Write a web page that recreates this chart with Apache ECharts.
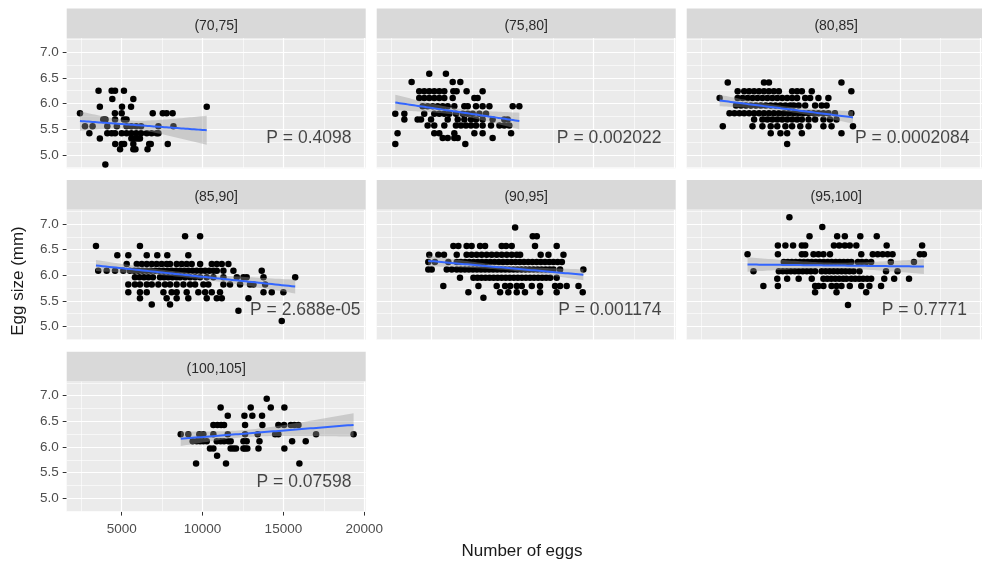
<!DOCTYPE html>
<html>
<head>
<meta charset="utf-8">
<script src="https://cdn.jsdelivr.net/npm/echarts@6/dist/echarts.min.js"></script>
<style>
  html, body { margin: 0; padding: 0; background: #ffffff; }
  #chart { width: 982px; height: 570px; }
</style>
</head>
<body>
<div id="chart"></div>
<script>
// Facet labels (female length class) and the p-value of each panel's linear fit
const panelTitles = ['(70,75]', '(75,80]', '(80,85]', '(85,90]', '(90,95]', '(95,100]', '(100,105]'];
const pValues = ['P = 0.4098', 'P = 0.002022', 'P = 0.0002084', 'P = 2.688e-05', 'P = 0.001174', 'P = 0.7771', 'P = 0.07598'];

// Fitted egg size (mm) at the smallest and largest egg count of each panel
const fitStart = [5.66, 6.02, 6.06, 6.19, 6.28, 6.21, 6.16];
const fitEnd   = [5.48, 5.66, 5.73, 5.78, 6.01, 6.17, 6.43];

// Axis breaks
const xTicks = [5000, 10000, 15000, 20000];
const xMinor = [2500, 7500, 12500, 17500];
const yTicks = [5.0, 5.5, 6.0, 6.5, 7.0];
const yMinor = [4.75, 5.25, 5.75, 6.25, 6.75, 7.25];
const xLimits = [1600, 20090];
const yLimits = [4.74, 7.28];

// Observations per panel, grouped by egg size (mm): [egg size, [number of eggs, ...]]
const eggs70_75 = [
  [6.25, [3570, 4380, 4590, 5140]],
  [6.09, [4420, 5720]],
  [5.94, [3650, 5020, 5580, 10260]],
  [5.81, [2420, 4580, 5000, 6920, 7540, 7780, 8150]],
  [5.69, [3860, 4000, 4590, 5140, 5300]],
  [5.56, [2730, 3200, 4110, 4700, 5300, 5600, 5900, 6200, 7270, 8200]],
  [5.42, [3000, 4110, 4380, 4590, 5000, 5300, 5600, 5900, 6200, 6550, 6850, 7160, 7270]],
  [5.32, [3650, 5600, 5850, 6000, 6130]],
  [5.21, [4600, 5000, 5150, 5720, 6700, 6800, 7850]],
  [5.11, [4900, 5720, 5850, 6600]],
  [4.81, [3990]]
];
const eggs75_80 = [
  [6.58, [4850, 5880]],
  [6.42, [3760, 6300, 6770]],
  [6.24, [4230, 4540, 4850, 5160, 5470, 5780, 6340, 6540, 7160, 8150]],
  [6.11, [4230, 4540, 4850, 5160, 5470, 5780, 6300, 7640, 7840]],
  [5.95, [4440, 4750, 5060, 5370, 5680, 5990, 6400, 7020, 7230, 7740, 8150, 8570, 10010, 10420]],
  [5.80, [2750, 3310, 4540, 5160, 5470, 5780, 6090, 6500, 6920, 7230, 7540, 7950, 8360]],
  [5.69, [3310, 4130, 4340, 4960, 5990, 6610, 7020, 7430, 7740, 8150, 8770, 9490, 9700]],
  [5.57, [4750, 5160, 5780, 6500, 6810, 7120, 7430, 7740, 8150, 8670, 9190, 9490, 9800]],
  [5.42, [2890, 5160, 5470, 6400, 7640, 8150, 9910]],
  [5.33, [5680, 5990, 6400, 6610, 8770]],
  [5.21, [2750, 7080]]
];
const eggs80_85 = [
  [6.41, [4170, 6440, 6750, 11290]],
  [6.24, [4790, 5200, 5510, 5820, 6130, 6440, 6750, 7060, 7370, 8200, 8510, 8810, 9430, 11910]],
  [6.11, [3660, 4790, 5100, 5410, 5720, 6030, 6340, 6650, 6960, 7270, 7580, 7890, 8200, 8510, 9020, 9330, 9850, 10470]],
  [5.96, [4690, 5000, 5310, 5620, 5930, 6240, 6550, 6860, 7160, 7470, 7780, 8090, 8300, 8610, 9020, 9640, 10050, 10360]],
  [5.81, [4280, 4590, 4900, 5200, 5510, 5820, 6130, 6440, 6750, 7060, 7370, 7680, 7990, 8300, 8610, 8920, 9230, 9540, 9850, 10160, 10470, 10880, 11910]],
  [5.69, [5820, 6340, 6650, 6960, 7270, 7580, 7890, 8200, 8510, 8810, 9230, 9640, 10160, 10570, 10980]],
  [5.56, [3860, 5720, 6340, 6860, 7270, 7780, 8200, 8710, 9230, 10160, 10670, 12010]],
  [5.42, [6860, 7470, 7890, 8810, 11290]],
  [5.21, [7890]]
];
const eggs85_90 = [
  [6.76, [8920, 9850]],
  [6.57, [3410, 6130]],
  [6.39, [4730, 5410, 6550, 7200, 7820, 9120]],
  [6.22, [5310, 5930, 6240, 6550, 6860, 7160, 7470, 7780, 7990, 8400, 8710, 9020, 9330, 9850, 10570, 10880, 11190, 11600]],
  [6.09, [3550, 4070, 4590, 5100, 5510, 5770, 6030, 6290, 6550, 6810, 7070, 7320, 7580, 7840, 8100, 8360, 8610, 8870, 9130, 9390, 9640, 9900, 10160, 10420, 10680, 10880, 11290, 11910, 13660]],
  [5.96, [5820, 6100, 6380, 6650, 6930, 7370, 7620, 7880, 8140, 8400, 8610, 8920, 9230, 9540, 9850, 10260, 10670, 11290, 12120, 12530, 12730, 13770, 15730]],
  [5.82, [5410, 5820, 6130, 6550, 6860, 7270, 7680, 7990, 8400, 8820, 9230, 9540, 10050, 10360, 11290, 11700, 12320, 12940, 13150, 13870]],
  [5.67, [5410, 6130, 6550, 7580, 8090, 8400, 9020, 9740, 10160, 10570, 11080, 13770, 14280, 15000]],
  [5.55, [6130, 7780, 8400, 9120, 10260, 10880, 11190, 12840]],
  [5.43, [6860, 7990]],
  [5.31, [12220]],
  [5.11, [14900]]
];
const eggs90_95 = [
  [6.93, [10160]],
  [6.76, [11250, 11500]],
  [6.57, [6340, 6650, 7160, 7470, 7990, 8300, 9330, 9600, 9950, 11390, 12730]],
  [6.40, [4850, 5410, 5760, 6550, 7160, 7470, 7780, 8090, 8400, 8710, 9020, 9330, 9640, 9950, 10260, 10470, 11740, 12220, 13150]],
  [6.26, [4790, 5200, 6030, 6550, 6810, 7070, 7330, 7590, 7850, 8110, 8370, 8630, 8890, 9150, 9410, 9670, 9930, 10190, 10450, 10710, 10970, 11230, 11490, 11750, 12010, 12270, 12530, 12790, 13050]],
  [6.11, [4790, 5000, 5930, 6240, 6550, 6800, 7050, 7300, 7550, 7800, 8050, 8300, 8550, 8800, 9050, 9300, 9550, 9800, 10050, 10300, 10550, 10800, 11050, 11300, 11550, 11800, 12050, 12300, 12530, 12940, 14380]],
  [5.95, [6750, 7580, 7830, 8080, 8330, 8580, 8830, 9080, 9330, 9580, 9830, 10080, 10330, 10580, 10830, 11080, 11330, 11580, 11830, 12080, 12330, 12730]],
  [5.79, [5720, 7890, 9020, 9540, 9850, 10260, 10570, 11190, 11700, 12630, 12940, 13350, 14080]],
  [5.67, [7270, 9230, 9740, 10260, 10770, 11700, 12730, 14340]],
  [5.56, [8200]]
];
const eggs95_100 = [
  [7.13, [8030]],
  [6.94, [10090]],
  [6.76, [9290, 11020, 11500, 12470, 13500]],
  [6.58, [7310, 7780, 8260, 8810, 9020, 10820, 11150, 11500, 11810, 12220, 14120, 16340]],
  [6.41, [5410, 7310, 8810, 9020, 9540, 9850, 10160, 10570, 12530, 13250, 13560, 13870, 14180, 14490, 16200, 16450]],
  [6.26, [7680, 7930, 8180, 8430, 8680, 8930, 9180, 9430, 9680, 9930, 10180, 10430, 10680, 10930, 11180, 11430, 11680, 11910, 12320, 12570, 12840, 13150, 14380, 15830]],
  [6.08, [5780, 7370, 7620, 7870, 8120, 8370, 8620, 8870, 9120, 9370, 9640, 10050, 10300, 10550, 10800, 11050, 11300, 11550, 11800, 12050, 12420, 14080, 14800]],
  [5.93, [7270, 7890, 8610, 9430, 10160, 10400, 10650, 10900, 11150, 11400, 11600, 11910, 12150, 12400, 12650, 12900, 13150, 13970, 14590, 15520]],
  [5.79, [6400, 7310, 9640, 9850, 10160, 10670, 10980, 11290, 11810, 12530, 13040, 13770]],
  [5.67, [9640, 10980, 12840]],
  [5.42, [11700]]
];
const eggs100_105 = [
  [6.94, [13970]],
  [6.77, [11120, 12980, 14220, 15060]],
  [6.61, [11560, 12590, 13080, 13680]],
  [6.43, [10670, 10920, 11150, 11330, 12630, 13700, 14690, 15040, 15460, 15680, 15930]],
  [6.25, [8650, 9120, 9800, 10050, 10670, 11560, 12630, 13410, 14490, 14690, 17020, 19340]],
  [6.11, [9390, 9640, 9850, 10050, 10260, 10880, 11120, 11330, 11600, 11740, 12530, 12730, 13520, 15540, 16380]],
  [5.97, [10460, 10670, 11740, 11910, 12070, 12530, 12630, 12770, 13460, 15060]],
  [5.83, [10900]],
  [5.68, [9600, 11450, 15990]]
];

const panelData = [eggs70_75, eggs75_80, eggs80_85, eggs85_90, eggs90_95, eggs95_100, eggs100_105];

// ---- layout (pixels) ----
const FONT = '"Liberation Sans", Arial, sans-serif';
const colLeft = [66.7, 376.7, 686.7];
const rowTop = [37.9, 209.6, 381.3];
const panelW = 299;
const panelH = 130.3;
const stripH = 29.5;
const pLabelY = 5.32;
const pLabelRight = [19240, 19240, 19330, 19800, 19240, 19180, 19240];

// flatten grouped rows into [x, y] points
function toPoints(rows) {
  const out = [];
  rows.forEach(([size, counts]) => counts.forEach(c => out.push([c, size])));
  return out;
}

// straight fit between the stated end values, with a 95% confidence band
// for the mean built from the residual spread of the panel's points
function fitWithBand(pts, y0, y1) {
  const n = pts.length;
  const xs = pts.map(p => p[0]);
  const lo = Math.min(...xs), hi = Math.max(...xs);
  const b = (y1 - y0) / (hi - lo);
  const a = y0 - b * lo;
  let sx = 0;
  xs.forEach(x => { sx += x; });
  const mx = sx / n;
  let sxx = 0, sse = 0;
  pts.forEach(p => {
    sxx += (p[0] - mx) ** 2;
    sse += (p[1] - a - b * p[0]) ** 2;
  });
  const s = Math.sqrt(sse / (n - 2));
  const t = 1.96 + 2.4 / (n - 2);
  const line = [], upper = [], lower = [];
  const steps = 60;
  for (let k = 0; k <= steps; k++) {
    const x = lo + (hi - lo) * k / steps;
    const yh = a + b * x;
    const se = s * Math.sqrt(1 / n + (x - mx) ** 2 / sxx);
    line.push([x, yh]);
    upper.push([x, yh + t * se]);
    lower.push([x, yh - t * se]);
  }
  return { line, upper, lower };
}

const grids = [], xAxes = [], yAxes = [], series = [], graphics = [];

panelData.forEach((rows, i) => {
  const row = Math.floor(i / 3), col = i % 3;
  const left = colLeft[col], top = rowTop[row];
  grids.push({
    left: left, top: top, width: panelW, height: panelH,
    show: true, backgroundColor: '#EBEBEB', borderWidth: 0
  });
  const showX = (i === 6);
  const showY = (col === 0);
  xAxes.push({
    type: 'value', gridIndex: i, min: xLimits[0], max: xLimits[1],
    axisLine: { show: false }, splitLine: { show: false },
    axisTick: { show: showX, customValues: xTicks, length: 4, lineStyle: { color: '#333333', width: 1 } },
    axisLabel: { show: showX, customValues: xTicks, color: '#4D4D4D', fontSize: 13.5, fontFamily: FONT, margin: 11,
      formatter: v => String(v) }
  });
  yAxes.push({
    type: 'value', gridIndex: i, min: yLimits[0], max: yLimits[1],
    axisLine: { show: false }, splitLine: { show: false },
    axisTick: { show: showY, customValues: yTicks, length: 4, lineStyle: { color: '#333333', width: 1 } },
    axisLabel: { show: showY, customValues: yTicks, color: '#4D4D4D', fontSize: 13.5, fontFamily: FONT, margin: 8,
      formatter: v => v.toFixed(1) }
  });

  const pts = toPoints(rows);
  const fit = fitWithBand(pts, fitStart[i], fitEnd[i]);

  const gridLines = [];
  xMinor.forEach(v => gridLines.push({ xAxis: v, lineStyle: { width: 0.6 } }));
  yMinor.forEach(v => gridLines.push({ yAxis: v, lineStyle: { width: 0.6 } }));
  xTicks.forEach(v => gridLines.push({ xAxis: v, lineStyle: { width: 1.2 } }));
  yTicks.forEach(v => gridLines.push({ yAxis: v, lineStyle: { width: 1.2 } }));

  // points
  series.push({
    type: 'scatter', xAxisIndex: i, yAxisIndex: i, z: 2, silent: true,
    symbolSize: 6.5, itemStyle: { color: '#000000', opacity: 1 },
    data: pts,
    markLine: {
      z: 1, silent: true, symbol: 'none', animation: false,
      label: { show: false },
      lineStyle: { color: '#FFFFFF', type: 'solid' },
      emphasis: { disabled: true },
      data: gridLines
    }
  });
  // confidence band
  series.push({
    type: 'custom', xAxisIndex: i, yAxisIndex: i, z: 3, silent: true,
    data: [fit.line[0]],
    renderItem: (params, api) => {
      const poly = fit.upper.map(p => api.coord(p))
        .concat(fit.lower.slice().reverse().map(p => api.coord(p)));
      return { type: 'polygon', shape: { points: poly }, style: { fill: 'rgba(153,153,153,0.4)' } };
    }
  });
  // fitted line
  series.push({
    type: 'line', xAxisIndex: i, yAxisIndex: i, z: 4, silent: true,
    data: fit.line, showSymbol: false, symbol: 'none',
    lineStyle: { color: '#3366FF', width: 2 }
  });
  // p-value text
  series.push({
    type: 'scatter', xAxisIndex: i, yAxisIndex: i, z: 5, silent: true,
    symbolSize: 1, itemStyle: { color: 'rgba(0,0,0,0)' },
    data: [[pLabelRight[i], pLabelY]],
    label: { show: true, position: 'left', distance: 0, formatter: pValues[i],
      fontSize: 17.5, color: '#1A1A1A', fontFamily: FONT }
  });

  // strip header
  graphics.push({
    type: 'rect', left: left, top: top - stripH, z: 10,
    shape: { width: panelW, height: stripH },
    style: { fill: '#D9D9D9' }
  });
  graphics.push({
    type: 'text', x: left + panelW / 2, y: top - stripH + 17.5, z: 11,
    style: { text: panelTitles[i], fill: '#2B2B2B', font: '14px ' + FONT,
      textAlign: 'center', textVerticalAlign: 'middle' }
  });
});

graphics.push({
  type: 'text', x: 522, y: 551, z: 11,
  style: { text: 'Number of eggs', fill: '#1A1A1A', font: '17px ' + FONT,
    textAlign: 'center', textVerticalAlign: 'middle' }
});
graphics.push({
  type: 'text', x: 18, y: 281, z: 11, rotation: Math.PI / 2,
  style: { text: 'Egg size (mm)', fill: '#1A1A1A', font: '17px ' + FONT,
    textAlign: 'center', textVerticalAlign: 'middle' }
});

const chart = echarts.init(document.getElementById('chart'), null, { renderer: 'canvas' });
chart.setOption({
  animation: false,
  backgroundColor: '#FFFFFF',
  grid: grids,
  xAxis: xAxes,
  yAxis: yAxes,
  series: series,
  graphic: graphics
});
</script>
</body>
</html>
